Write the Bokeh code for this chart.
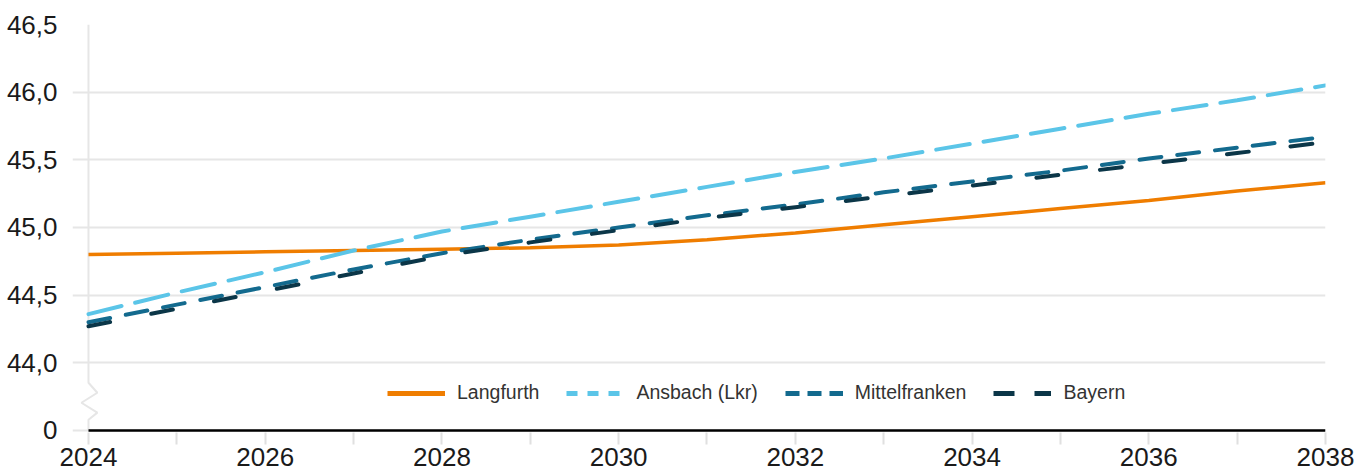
import numpy as np
from bokeh.plotting import figure
from bokeh.models import Range1d, FixedTicker, CustomJSTickFormatter, Legend, LegendItem
from bokeh.embed import file_html
from bokeh.resources import INLINE

# ---------------- data ----------------
years = list(range(2024, 2039))
langfurth = [44.80, 44.81, 44.82, 44.83, 44.84, 44.85, 44.87, 44.91, 44.96, 45.02, 45.08, 45.14, 45.20, 45.27, 45.33]
ansbach = [44.36, 44.52, 44.67, 44.83, 44.97, 45.08, 45.19, 45.30, 45.41, 45.51, 45.62, 45.73, 45.84, 45.94, 46.05]
mittelfranken = [44.30, 44.43, 44.56, 44.69, 44.81, 44.91, 45.00, 45.09, 45.17, 45.26, 45.34, 45.42, 45.51, 45.59, 45.67]
bayern = [44.27, 44.40, 44.53, 44.66, 44.79, 44.89, 44.98, 45.07, 45.15, 45.23, 45.31, 45.39, 45.47, 45.55, 45.63]
series_names = ["Langfurth", "Ansbach (Lkr)", "Mittelfranken", "Bayern"]
y_ticks = [43.5, 44.0, 44.5, 45.0, 45.5, 46.0, 46.5]   # 43.5 is shown as "0" (broken axis)

# ---------------- styles ----------------
colors = ["#ef7d00", "#5bc5e8", "#136a8e", "#0b3648"]
dashes = ["solid", "34 14", "22 16", "22 42"]
widths = [3.5, 4, 4, 4]
legend_dashes = ["solid", "11 10", "14 8", "21 20"]
legend_widths = [5, 5, 5, 5]
GRID = "#e6e6e6"
FONT = "Liberation Sans"

x_pad = 16 / 88.36           # gridlines reach a little left of the first year
y_pad = 2 / 135.3
p = figure(width=1355, height=476, output_backend="svg", toolbar_location=None,
           x_range=Range1d(years[0] - x_pad, years[-1]),
           y_range=Range1d(y_ticks[0] - y_pad, y_ticks[-1]),
           min_border_left=72, min_border_right=30, min_border_top=24, min_border_bottom=44)
p.outline_line_color = None
p.xgrid.grid_line_color = None
p.ygrid.grid_line_color = GRID
p.ygrid.grid_line_width = 2
p.background_fill_color = "white"

# y axis
p.yaxis.ticker = FixedTicker(ticks=y_ticks)
p.yaxis.formatter = CustomJSTickFormatter(code="return tick < 43.9 ? '0' : tick.toFixed(1).replace('.', ',');")
p.yaxis.axis_line_color = None
p.yaxis.major_tick_line_color = None
p.yaxis.minor_tick_line_color = None
p.yaxis.major_label_standoff = 9
p.yaxis.major_label_text_font = FONT
p.yaxis.major_label_text_font_size = "26px"
p.yaxis.major_label_text_color = "#1a1a1a"

# x axis
p.xaxis.ticker = FixedTicker(ticks=years)
p.xaxis.formatter = CustomJSTickFormatter(code="return (tick % 2 == 0) ? tick.toString() : '';")
p.xaxis.axis_line_color = None
p.xaxis.major_tick_line_color = "#e0e0e0"
p.xaxis.major_tick_line_width = 2
p.xaxis.major_tick_out = 12
p.xaxis.major_tick_in = 0
p.xaxis.minor_tick_line_color = None
p.xaxis.major_label_standoff = 3
p.xaxis.major_label_text_font = FONT
p.xaxis.major_label_text_font_size = "26px"
p.xaxis.major_label_text_color = "#1a1a1a"

# y axis line with break symbol (decoration)
brk_y = [y_ticks[-1], 43.853, 43.779, 43.705, 43.632, 43.580, y_ticks[0]]
brk_x = [years[0], years[0], years[0] + 0.10, years[0] - 0.08, years[0] + 0.10, years[0], years[0]]
p.line(brk_x, brk_y, line_color=GRID, line_width=2)

# baseline (zero line)
p.segment(x0=[years[0]], y0=[y_ticks[0]], x1=[years[-1]], y1=[y_ticks[0]], line_color="black", line_width=2.5)

for vals, c, d, w in zip([langfurth, ansbach, mittelfranken, bayern], colors, dashes, widths):
    p.line(years, vals, line_color=c, line_width=w, line_dash=d,
           line_cap="butt" if d == "solid" else "round")

# legend-only renderers (legend swatches use a shorter dash pattern; they draw nothing in the plot)
items = []
for name, c, d, w in zip(series_names, colors, legend_dashes, legend_widths):
    r = p.line(np.array([np.nan]), np.array([np.nan]), line_color=c, line_width=w, line_dash=d)
    items.append(LegendItem(label=name, renderers=[r]))

legend = Legend(items=items, orientation="horizontal", location=(315, 28),
                glyph_width=58, glyph_height=22, label_height=22, label_standoff=12, spacing=27,
                padding=0, margin=0, border_line_alpha=0, background_fill_alpha=0,
                label_text_font=FONT, label_text_font_size="19.5px", label_text_color="#333333")
p.add_layout(legend, "center")

open("out.html", "w").write(file_html(p, INLINE))
